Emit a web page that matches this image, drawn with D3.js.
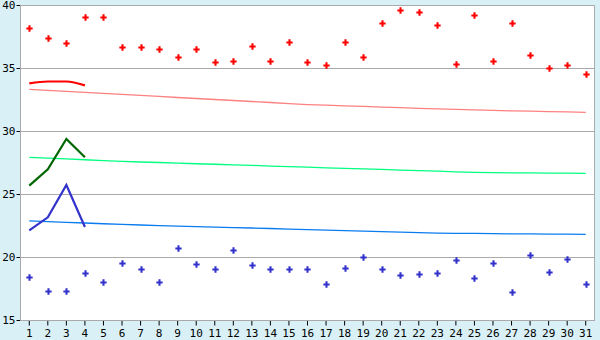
<!DOCTYPE html>
<html>
<head>
<meta charset="utf-8">
<script src="https://cdn.jsdelivr.net/npm/d3@7"></script>
<style>
  body { margin: 0; background: #d9f0f7; }
  svg { display: block; }
  .tick text { font-family: "DejaVu Sans Mono", monospace; font-size: 11px; fill: #000; }
</style>
</head>
<body>
<div id="chart"></div>
<script>
// days of the month
var days = d3.range(1, 32);

// daily maximum / minimum (scatter)
var highPts = [38.2, 37.4, 37.0, 39.05, 39.05, 36.64, 36.64, 36.48, 35.85, 36.48, 35.45, 35.53, 36.72, 35.53, 37.04,
               35.45, 35.21, 37.04, 35.85, 38.55, 39.57, 39.42, 38.39, 35.29, 39.18, 35.53, 38.55, 36.0, 34.97, 35.21, 34.5];
var lowPts = [18.39, 17.28, 17.28, 18.71, 17.99, 19.5, 19.02, 17.99, 20.69, 19.42, 19.02, 20.53, 19.34, 19.02, 19.02,
              19.02, 17.83, 19.1, 19.98, 19.02, 18.55, 18.63, 18.71, 19.74, 18.31, 19.5, 17.2, 20.13, 18.79, 19.82, 17.83];

// normals
var normHigh = [33.31, 33.23, 33.15, 33.07, 32.99, 32.91, 32.83, 32.75, 32.66, 32.58, 32.50, 32.42, 32.34, 32.26, 32.17,
                32.10, 32.05, 32.00, 31.95, 31.90, 31.85, 31.80, 31.75, 31.71, 31.67, 31.63, 31.60, 31.57, 31.54, 31.51, 31.48];
var normMean = [27.91, 27.85, 27.78, 27.72, 27.65, 27.59, 27.54, 27.50, 27.45, 27.40, 27.36, 27.31, 27.27, 27.22, 27.18,
                27.13, 27.08, 27.04, 26.99, 26.95, 26.90, 26.86, 26.81, 26.76, 26.71, 26.69, 26.68, 26.67, 26.66, 26.65, 26.64];
var normLow = [22.86, 22.81, 22.75, 22.70, 22.64, 22.59, 22.54, 22.49, 22.45, 22.41, 22.37, 22.33, 22.30, 22.26, 22.22,
               22.18, 22.14, 22.10, 22.06, 22.02, 21.98, 21.94, 21.90, 21.88, 21.87, 21.85, 21.84, 21.83, 21.82, 21.81, 21.80];

// forecast (first four days)
var fcDays = [1, 2, 3, 4];
var fcHigh = [33.78, 33.93, 33.93, 33.62];
var fcMean = [25.66, 26.96, 29.37, 27.91];
var fcLow = [22.12, 23.15, 25.71, 22.38];

var yTicks = [15, 20, 25, 30, 35, 40];

function main() {
    var W = 600, H = 340;
    var pLeft = 20, pRight = 595, pTop = 5, pBottom = 320;

    var svg = d3.select("#chart").append("svg")
        .attr("width", W)
        .attr("height", H);

    var x = d3.scaleBand().domain(days).range([pLeft, pRight]);
    var y = d3.scaleLinear().domain([15, 40]).range([pBottom, pTop]);
    function cx(d) { return x(d) + x.bandwidth() / 2; }

    // plot background
    svg.append("rect")
        .attr("x", pLeft).attr("y", pTop)
        .attr("width", pRight - pLeft).attr("height", pBottom - pTop)
        .attr("fill", "#fff");

    // gridlines
    svg.append("g").selectAll("line")
        .data(yTicks.filter(function (t) { return t > 15 && t < 40; }))
        .enter().append("line")
        .attr("x1", pLeft).attr("x2", pRight)
        .attr("y1", function (d) { return Math.round(y(d)) + 0.5; })
        .attr("y2", function (d) { return Math.round(y(d)) + 0.5; })
        .attr("stroke", "#aaa");

    // axes
    var yAxis = svg.append("g")
        .attr("transform", "translate(" + (pLeft + 0.5) + ",0)")
        .call(d3.axisLeft(y).tickValues(yTicks).tickSize(4).tickPadding(1));
    var xAxis = svg.append("g")
        .attr("transform", "translate(0," + (pBottom + 0.5) + ")")
        .call(d3.axisBottom(x).tickSize(5).tickPadding(4));
    [xAxis, yAxis].forEach(function (a) {
        a.select(".domain").remove();
        a.selectAll(".tick line").attr("stroke", "#000");
    });

    // frame
    svg.append("rect")
        .attr("x", pLeft + 0.5).attr("y", pTop + 0.5)
        .attr("width", pRight - pLeft - 1).attr("height", pBottom - pTop)
        .attr("fill", "none")
        .attr("stroke", "#aaa");

    // normal lines
    function normLine(vals, color) {
        svg.append("path")
            .datum(vals)
            .attr("fill", "none")
            .attr("stroke", color)
            .attr("stroke-width", 1.3)
            .attr("d", d3.line()
                .x(function (d, i) { return cx(days[i]); })
                .y(function (d) { return y(d); }));
    }
    normLine(normHigh, "#ff8080");
    normLine(normMean, "#00ff80");
    normLine(normLow, "#0a7cf0");

    // forecast lines
    function fcLine(vals, color, curve) {
        svg.append("path")
            .datum(vals)
            .attr("fill", "none")
            .attr("stroke", color)
            .attr("stroke-width", 2.2)
            .attr("d", d3.line()
                .curve(curve)
                .x(function (d, i) { return cx(fcDays[i]); })
                .y(function (d) { return y(d); }));
    }
    fcLine(fcHigh, "#ff0000", d3.curveMonotoneX);
    fcLine(fcMean, "#006600", d3.curveLinear);
    fcLine(fcLow, "#3333cc", d3.curveLinear);

    // scatter markers
    var cross = d3.symbol().type(d3.symbolCross).size(22);
    function dots(vals, color) {
        svg.append("g").selectAll("path")
            .data(vals)
            .enter().append("path")
            .attr("d", cross)
            .attr("transform", function (d, i) {
                return "translate(" + (Math.round(cx(days[i])) + 0.5) + "," + (Math.round(y(d)) + 0.5) + ")";
            })
            .attr("fill", color);
    }
    dots(highPts, "#ff0000");
    dots(lowPts, "#3333cc");
}

main();
</script>
</body>
</html>
